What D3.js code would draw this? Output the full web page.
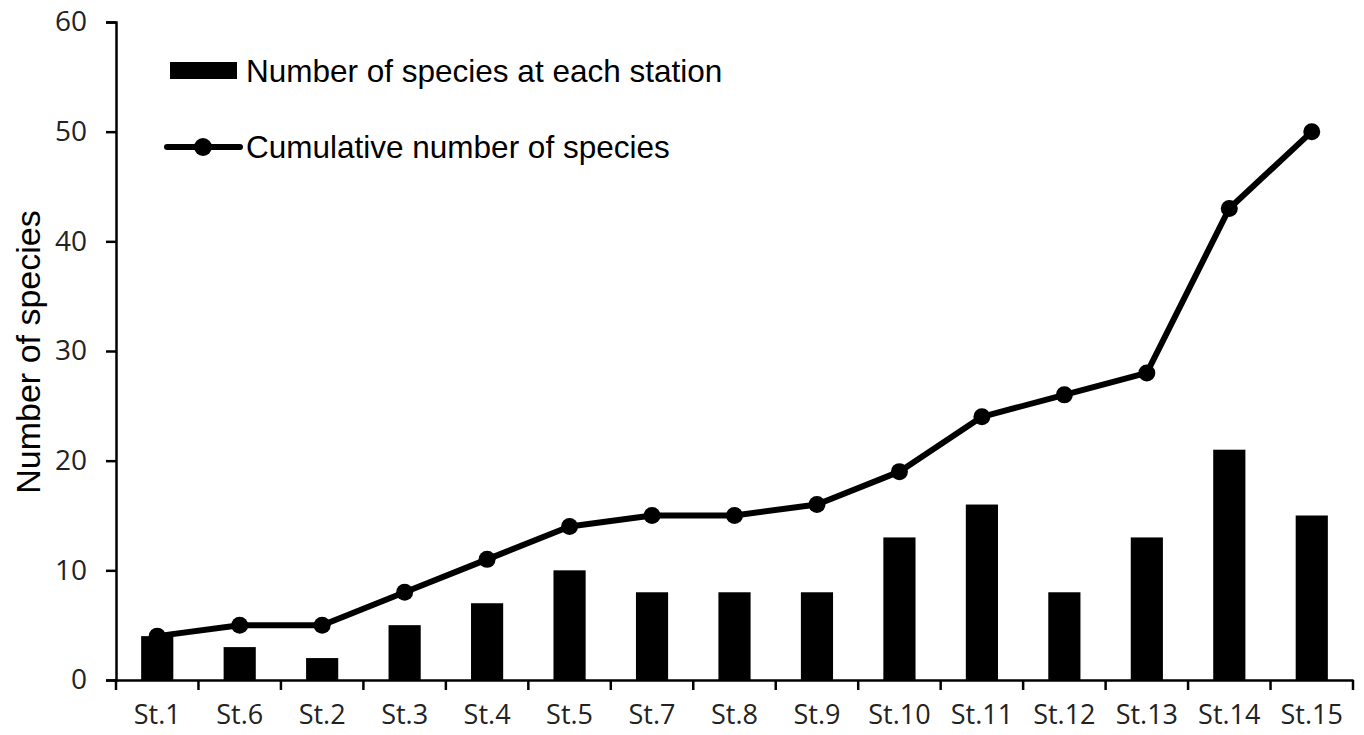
<!DOCTYPE html>
<html>
<script src="https://d3js.org/d3.v7.min.js"></script>

<head>
    <style>
        body {
            margin: 0;
            background-color: #ffffff;
        }

        svg {
            display: block;
        }
    </style>
</head>

<body>
    <div id="vis"></div>
</body>
<script>
    const stations = ["St.1", "St.6", "St.2", "St.3", "St.4", "St.5", "St.7", "St.8",
        "St.9", "St.10", "St.11", "St.12", "St.13", "St.14", "St.15"];
    const speciesPerStation = [4, 3, 2, 5, 7, 10, 8, 8, 8, 13, 16, 8, 13, 21, 15];
    const cumulativeSpecies = [4, 5, 5, 8, 11, 14, 15, 15, 16, 19, 24, 26, 28, 43, 50];
    const yTicks = [0, 10, 20, 30, 40, 50, 60];

    const width = 1364,
        height = 735;
    const margin = { top: 22, right: 11, bottom: 55, left: 116 };
    const tickFont = "'Open Sans', sans-serif";
    const labelFont = "'Liberation Sans', Arial, sans-serif";

    const svg = d3.select("#vis").append("svg").attr("width", width).attr("height", height);

    const data = stations.map((s, i) => ({
        station: s,
        count: speciesPerStation[i],
        cumulative: cumulativeSpecies[i]
    }));

    const xScale = d3.scaleBand()
        .domain(stations)
        .range([margin.left, width - margin.right])
        .padding(0);
    const yScale = d3.scaleLinear()
        .domain([0, 60])
        .range([height - margin.bottom, margin.top]);
    const barWidth = xScale.bandwidth() * 0.39;

    // bars
    svg.append("g")
        .selectAll("rect")
        .data(data)
        .join(enter => enter.append("rect")
            .attr("x", d => xScale(d.station) + (xScale.bandwidth() - barWidth) / 2)
            .attr("y", d => yScale(d.count))
            .attr("width", barWidth)
            .attr("height", d => yScale(0) - yScale(d.count))
            .attr("fill", "black"));

    // y axis
    const yAxis = svg.append("g")
        .attr("transform", `translate(${margin.left},0)`)
        .call(d3.axisLeft(yScale).tickValues(yTicks).tickSize(10).tickPadding(19));
    yAxis.select(".domain").attr("stroke", "black").attr("stroke-width", 2.5);
    yAxis.selectAll(".tick line").attr("stroke", "black").attr("stroke-width", 2.5);
    yAxis.selectAll(".tick text")
        .attr("font-family", tickFont)
        .attr("font-size", 28)
        .attr("fill", "#222");

    // x axis, ticks sit on the band boundaries
    const xAxis = svg.append("g")
        .attr("transform", `translate(0,${yScale(0)})`)
        .call(d3.axisBottom(xScale).tickSize(0).tickPadding(25));
    xAxis.select(".domain").attr("stroke", "black").attr("stroke-width", 2.5);
    xAxis.selectAll(".tick text")
        .attr("font-family", tickFont)
        .attr("font-size", 27)
        .attr("fill", "#222");
    const boundaries = stations.map(s => xScale(s)).concat([width - margin.right]);
    xAxis.selectAll(".bound")
        .data(boundaries)
        .join(enter => enter.append("line")
            .attr("class", "bound")
            .attr("x1", d => d)
            .attr("x2", d => d)
            .attr("y1", 0)
            .attr("y2", 10)
            .attr("stroke", "black")
            .attr("stroke-width", 2.5));

    // cumulative line
    const line = d3.line()
        .x(d => xScale(d.station) + xScale.bandwidth() / 2)
        .y(d => yScale(d.cumulative));
    svg.append("path")
        .datum(data)
        .attr("d", line)
        .attr("fill", "none")
        .attr("stroke", "black")
        .attr("stroke-width", 6)
        .attr("stroke-linejoin", "round");
    svg.append("g")
        .selectAll("circle")
        .data(data)
        .join(enter => enter.append("circle")
            .attr("cx", d => xScale(d.station) + xScale.bandwidth() / 2)
            .attr("cy", d => yScale(d.cumulative))
            .attr("r", 8.5)
            .attr("fill", "black"));

    // y axis title
    svg.append("text")
        .attr("transform", "translate(40,352) rotate(-90)")
        .attr("text-anchor", "middle")
        .attr("font-family", labelFont)
        .attr("font-size", 34)
        .attr("fill", "black")
        .text("Number of species");

    // legend
    const legend = svg.append("g");
    legend.append("rect")
        .attr("x", 170).attr("y", 62)
        .attr("width", 67).attr("height", 17)
        .attr("fill", "black");
    legend.append("text")
        .attr("x", 246).attr("y", 82)
        .attr("font-family", labelFont)
        .attr("font-size", 31.5)
        .text("Number of species at each station");
    legend.append("line")
        .attr("x1", 167).attr("x2", 240)
        .attr("y1", 147).attr("y2", 147)
        .attr("stroke", "black")
        .attr("stroke-width", 6)
        .attr("stroke-linecap", "round");
    legend.append("circle")
        .attr("cx", 203).attr("cy", 147).attr("r", 9)
        .attr("fill", "black");
    legend.append("text")
        .attr("x", 246).attr("y", 158)
        .attr("font-family", labelFont)
        .attr("font-size", 31.5)
        .text("Cumulative number of species");
</script>

</html>
